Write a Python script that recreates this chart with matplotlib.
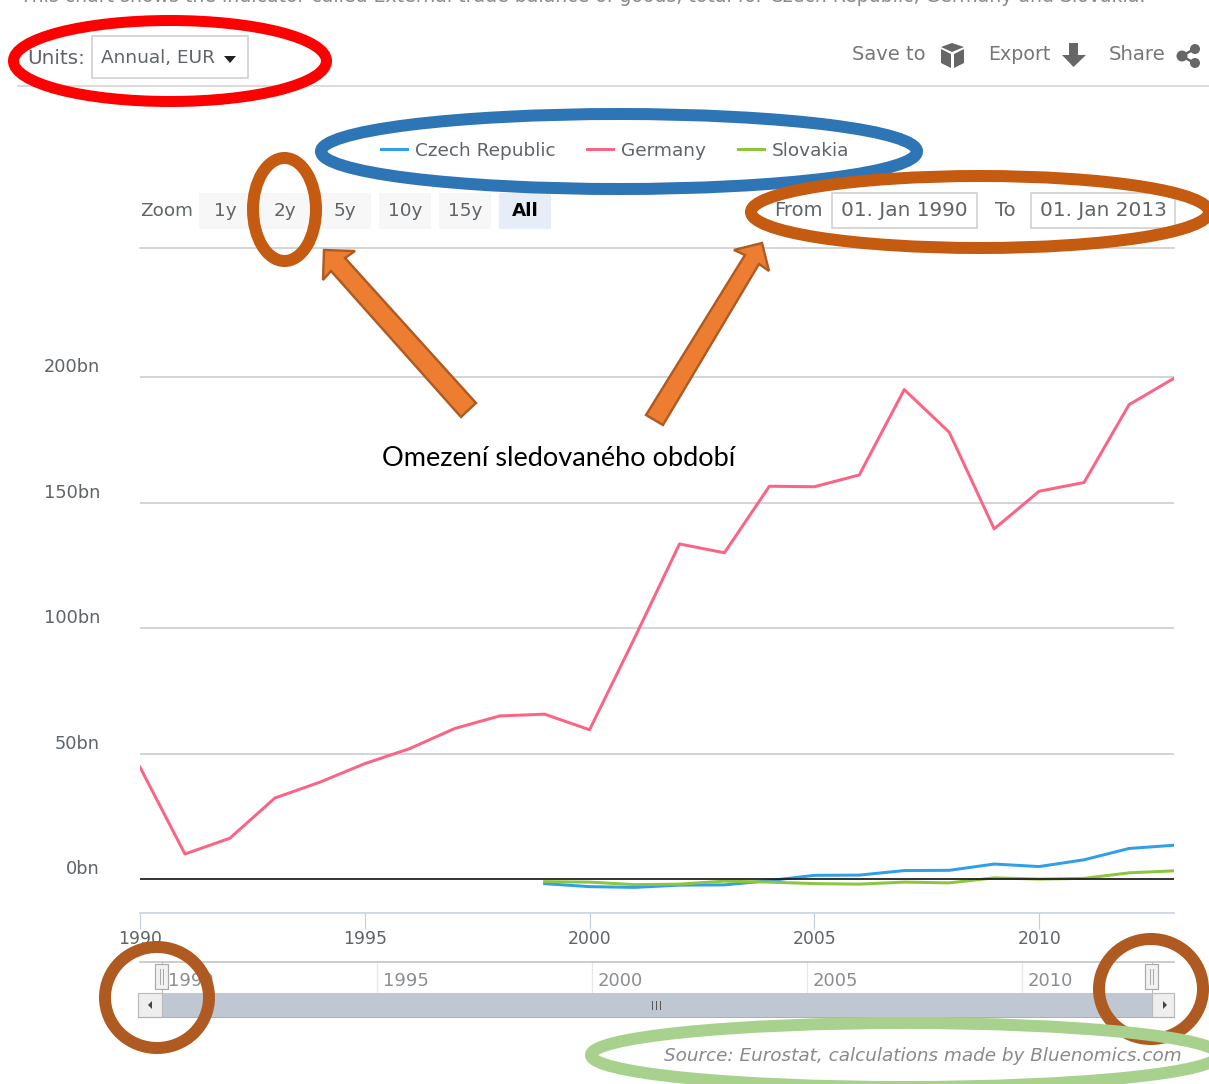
import matplotlib
matplotlib.use("Agg")
import matplotlib.pyplot as plt
from matplotlib.patches import Ellipse, Polygon, Rectangle, Circle

W, H = 1209, 1084

# rocni obchodni bilance, mld EUR
years = list(range(1990, 2014))
germany = [44.6, 10, 16.3, 32.3, 38.6, 46, 52, 60, 65, 65.7, 59.5, 96, 133.5, 130,
           156.5, 156.3, 161, 195, 178, 139.5, 154.5, 158, 189, 199.5]
years_short = list(range(1999, 2014))
czech = [-1.8, -3, -3.3, -2.4, -2.3, -0.6, 1.5, 1.6, 3.4, 3.5, 6, 5, 7.7, 12.2, 13.5]
slovakia = [-1, -1.2, -2.2, -2, -0.8, -1.2, -1.8, -2, -1.2, -1.5, 0.5, 0, 0.3, 2.5, 3.3]

y_ticks = [0, 50, 100, 150, 200]
y_labels = ["0bn", "50bn", "100bn", "150bn", "200bn"]
x_ticks = [1990, 1995, 2000, 2005, 2010]
zoom_labels = ["1y", "2y", "5y", "10y", "15y", "All"]

C_TEXT = "#5f6468"
C_GRID = "#c8c8c8"
C_AXIS = "#c0d0e0"
UI_FONT = "DejaVu Sans"


def px_axes(fig, x0, y0, x1, y1, **kw):
    # osy zadane v pixelech obrazku (y shora)
    return fig.add_axes([x0 / W, 1 - y1 / H, (x1 - x0) / W, (y1 - y0) / H], **kw)


def px(v):
    # sirka cary v pixelech -> body
    return v * 72 / 100


fig = plt.figure(figsize=(W / 100, H / 100), dpi=100, facecolor="white")
plt.rcParams["font.family"] = UI_FONT

# hlavni graf
ax = px_axes(fig, 140, 248, 1174, 913)
ax.set_xlim(1990, 2013)
ax.set_ylim(-13.5, 251.4)
ax.plot(years_short, czech, color="#2f9fe8", lw=px(3), label="Czech Republic", zorder=3)
ax.plot(years, germany, color="#fb6485", lw=px(3), label="Germany", zorder=3)
ax.plot(years_short, slovakia, color="#8cc63f", lw=px(3), label="Slovakia", zorder=3)
ax.axhline(0, color="#111111", lw=px(1.6), zorder=4)
ax.set_yticks(y_ticks)
ax.set_yticklabels([])
ax.grid(axis="y", color=C_GRID, lw=px(1.5))
ax.set_axisbelow(True)
ax.tick_params(axis="y", length=0)
ax.set_xticks(x_ticks)
ax.tick_params(axis="x", length=px(16), width=px(1.2), color=C_AXIS, labelcolor=C_TEXT,
               labelsize=12.4, pad=0.5)
for s in ("left", "right"):
    ax.spines[s].set_visible(False)
ax.spines["top"].set_color(C_GRID)
ax.spines["top"].set_linewidth(px(1.5))
ax.spines["bottom"].set_color(C_AXIS)
ax.spines["bottom"].set_linewidth(px(1.5))
for v, lab in zip(y_ticks, y_labels):
    ax.annotate(lab, xy=(0, v), xycoords=("axes fraction", "data"), xytext=(-40 * 0.72, 10 * 0.72),
                textcoords="offset points", ha="right", va="center", color=C_TEXT, fontsize=12.8)

# navigator pod grafem
nav = px_axes(fig, 162, 962, 1151, 993)
nav.set_xlim(1990, 2013)
nav.set_ylim(0, 1)
nav.set_yticks([])
nav.set_xticks(x_ticks)
nav.set_xticklabels([])
nav.tick_params(axis="x", length=0)
nav.grid(axis="x", color="#e8e8e8", lw=px(1.2))
for s in nav.spines.values():
    s.set_visible(False)
for v in x_ticks:
    nav.annotate(str(v), xy=(v, 0.5), xycoords=("data", "axes fraction"), xytext=(6 * 0.72, -3 * 0.72),
                 textcoords="offset points", ha="left", va="center", color="#8a8e92", fontsize=13)

# vrstva v pixelech pro ovladaci prvky a rucni anotace
ov = fig.add_axes([0, 0, 1, 1], zorder=5)
ov.set_xlim(0, W)
ov.set_ylim(H, 0)
ov.axis("off")
ov.patch.set_alpha(0)

ov.text(20, 2, "This chart shows the indicator called External trade balance of goods, total for "
        "Czech Republic, Germany and Slovakia.", color="#8a8a8a", fontsize=13.6, va="baseline")
ov.plot([18, 1209], [86, 86], color="#d0d0d0", lw=px(1.5))

# units
ov.text(27, 58, "Units:", color=C_TEXT, fontsize=14.4, va="center")
ov.add_patch(Rectangle((92, 36), 156, 42, fc="white", ec="#cccccc", lw=px(1.5)))
ov.text(101, 58, "Annual, EUR", color=C_TEXT, fontsize=13.3, va="center")
ov.add_patch(Polygon([(224, 56), (236, 56), (230, 63)], fc="#222222", ec="none"))

# save / export / share
ov.text(852, 55, "Save to", color="#777777", fontsize=14, va="center")
ov.add_patch(Polygon([(941, 47), (952, 43), (964, 47), (952, 52)], fc="#666666", ec="none"))
ov.add_patch(Polygon([(941, 49), (951, 54), (951, 68), (941, 63)], fc="#666666", ec="none"))
ov.add_patch(Polygon([(964, 49), (954, 54), (954, 68), (964, 63)], fc="#666666", ec="none"))
ov.text(988, 55, "Export", color="#777777", fontsize=13.7, va="center")
ov.add_patch(Polygon([(1069, 43), (1078, 43), (1078, 55), (1086, 55), (1073.5, 67), (1062, 55), (1069, 55)],
                     fc="#666666", ec="none"))
ov.text(1109, 55, "Share", color="#777777", fontsize=14.2, va="center")
ov.plot([1196, 1182, 1196], [48, 56, 64], color="#666666", lw=px(2.5))
for cx, cy, r in [(1195, 49, 5), (1182, 56, 5.5), (1195, 63, 5)]:
    ov.add_patch(Circle((cx, cy), r, fc="#666666", ec="none"))

# legenda
handles, labels = ax.get_legend_handles_labels()
ax.legend(handles, labels, ncol=3, frameon=False, loc="center", bbox_to_anchor=(615, 150.5),
          bbox_transform=ov.transData, fontsize=13.3, labelcolor=C_TEXT, handlelength=1.4,
          handletextpad=0.44, columnspacing=1.72, borderpad=0, borderaxespad=0)

# zoom tlacitka
ov.text(140, 211, "Zoom", color=C_TEXT, fontsize=13.2, va="center")
for i, lab in enumerate(zoom_labels):
    x0 = 199 + 60 * i
    active = lab == "All"
    ov.add_patch(Rectangle((x0, 193), 52, 36, fc="#e6edf6" if active else "#f7f7f7", ec="none"))
    ov.text(x0 + 26, 211, lab, color="black" if active else C_TEXT, fontsize=13.2,
            fontweight="bold" if active else "normal", ha="center", va="center")

# from / to
ov.text(774, 211, "From", color=C_TEXT, fontsize=14, va="center")
ov.add_patch(Rectangle((832, 193), 145, 35, fc="white", ec="#cccccc", lw=px(1.5)))
ov.text(904.5, 211, "01. Jan 1990", color=C_TEXT, fontsize=14.4, ha="center", va="center")
ov.text(995, 211, "To", color=C_TEXT, fontsize=14, va="center")
ov.add_patch(Rectangle((1031, 193), 144, 35, fc="white", ec="#cccccc", lw=px(1.5)))
ov.text(1103, 211, "01. Jan 2013", color=C_TEXT, fontsize=14.4, ha="center", va="center")

# scrollbar navigatoru
ov.plot([140, 1174], [962, 962], color="#bdbdbd", lw=px(1.5))
ov.add_patch(Rectangle((138, 993), 1036, 24, fc="#bfc8d2", ec="none"))
ov.plot([138, 1174], [1017, 1017], color="#b0b0b0", lw=px(1))
ov.add_patch(Rectangle((138, 993), 24, 24, fc="#eeeeee", ec="#bbbbbb", lw=px(1.2)))
ov.add_patch(Rectangle((1152, 993), 22, 24, fc="#eeeeee", ec="#bbbbbb", lw=px(1.2)))
ov.add_patch(Polygon([(148, 1005), (152, 1001), (152, 1009)], fc="#444444", ec="none"))
ov.add_patch(Polygon([(1167, 1005), (1163, 1001), (1163, 1009)], fc="#444444", ec="none"))
for gx in (652, 656, 660):
    ov.plot([gx, gx], [1001, 1009], color="#555555", lw=px(1))
for hx in (155, 1145):
    ov.plot([hx + 6.5, hx + 6.5], [962, 993], color="#bbbbbb", lw=px(1))
    ov.add_patch(Rectangle((hx, 964), 13, 25, fc="#f2f2f2", ec="#aaaaaa", lw=px(1.2), zorder=4))
    for dx in (5, 8):
        ov.plot([hx + dx, hx + dx], [969, 984], color="#aaaaaa", lw=px(1), zorder=5)

ov.text(1182, 1056, "Source: Eurostat, calculations made by Bluenomics.com", color="#8a8a8a",
        fontsize=13.2, style="italic", ha="right", va="center")

# rucni anotace - elipsy
ellipses = [
    ((170, 61), 313, 81, "#ff0000", 11),
    ((619, 151.5), 596, 75, "#2e75b6", 12),
    ((284.5, 209.5), 63, 103, "#c55a11", 12),
    ((980, 212), 458, 72, "#c55a11", 12),
    ((157, 997.5), 104, 101, "#ae5a21", 12),
    ((1151, 989), 104, 100, "#ae5a21", 12),
    ((905, 1055), 628, 64, "#a9d18e", 12),
]
for c, w, h, col, lw in ellipses:
    ov.add_patch(Ellipse(c, w, h, fc="none", ec=col, lw=px(lw), zorder=6))

# sipky
arrow_left = [(324, 250), (355, 251), (345, 258), (476, 403), (461, 417), (331, 271), (323, 280)]
arrow_right = [(762, 243), (734, 250), (745, 255), (646, 415), (663, 425), (759, 264), (769, 271)]
for pts in (arrow_left, arrow_right):
    ov.add_patch(Polygon(pts, fc="#ed7d31", ec="#ae5a21", lw=px(2.4), zorder=6))

ov.text(559, 458, "Omezení sledovaného období", family="Lato", color="black", fontsize=19.5,
        ha="center", va="center", zorder=7)

fig.savefig("out.png", dpi=100)
